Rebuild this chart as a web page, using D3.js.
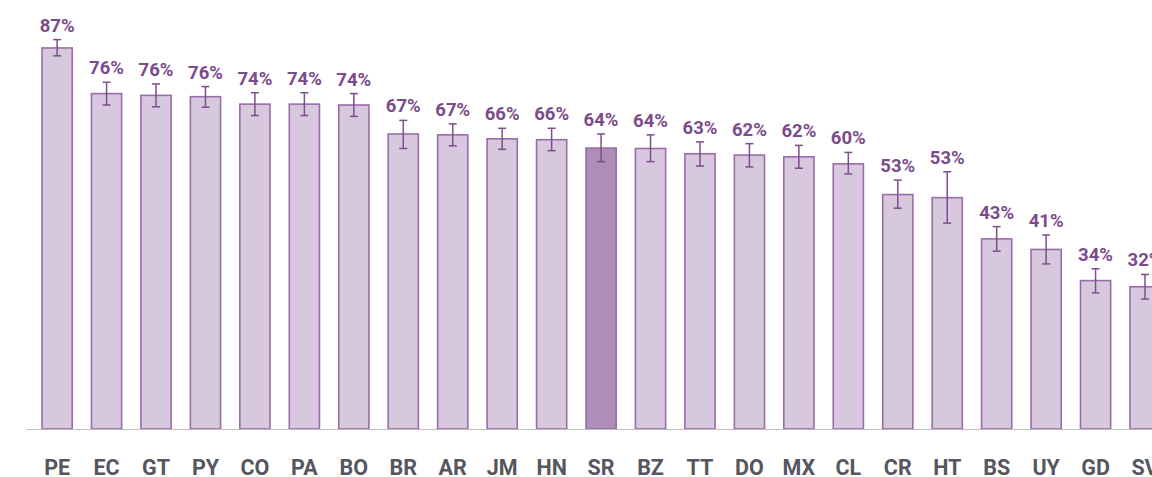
<!DOCTYPE html>
<html>
<head>
<meta charset="utf-8">
<script src="https://cdn.jsdelivr.net/npm/d3@7"></script>
<style>
    html, body { margin: 0; padding: 0; background: #fff; }
    svg { display: block; font-family: Roboto, "Noto Sans", sans-serif; }
</style>
</head>
<body>
<svg id="chart" width="1152" height="477"></svg>
<script>
// country codes, share (%) and the interval ends
const countries = ["PE", "EC", "GT", "PY", "CO", "PA", "BO", "BR", "AR", "JM", "HN", "SR",
    "BZ", "TT", "DO", "MX", "CL", "CR", "HT", "BS", "UY", "GD", "SV"];
const shares = [86.8, 76.4, 76.0, 75.7, 74.0, 74.0, 73.8, 67.2, 67.0, 66.1, 65.9, 64.0,
    63.9, 62.7, 62.4, 62.0, 60.4, 53.4, 52.7, 43.3, 40.9, 33.8, 32.4];
const upper = [88.7, 79.0, 78.6, 78.0, 76.6, 76.6, 76.4, 70.3, 69.5, 68.5, 68.5, 67.2,
    67.0, 65.4, 65.0, 64.6, 63.0, 56.7, 58.6, 46.1, 44.2, 36.5, 35.2];
const lower = [85.0, 73.8, 73.4, 73.3, 71.4, 71.4, 71.2, 63.9, 64.5, 63.7, 63.4, 60.9,
    60.9, 59.9, 59.7, 59.4, 58.1, 50.3, 46.9, 40.5, 37.6, 31.0, 29.6];
const highlighted = ["SR"];

const svg = d3.select("#chart");
const BASE_Y = 429;
const PX_PER_PCT = 4.39;

const x = d3.scaleBand()
    .domain(countries)
    .range([32.4, 32.4 + 23 * 49.45])
    .paddingInner(0.39)
    .paddingOuter(0.195);

const y = d3.scaleLinear()
    .domain([0, 100])
    .range([BASE_Y, BASE_Y - 100 * PX_PER_PCT]);

const data = countries.map((c, i) => ({
    code: c,
    value: shares[i],
    hi: upper[i],
    lo: lower[i]
}));

const barsG = svg.append("g").attr("class", "bars");
const errG = svg.append("g").attr("class", "errors");
const labelG = svg.append("g").attr("class", "labels");

barsG.selectAll("rect.bar").data(data).enter()
    .append("rect")
    .attr("class", "bar")
    .attr("x", d => x(d.code))
    .attr("width", x.bandwidth())
    .attr("y", d => y(d.value))
    .attr("height", d => y(0) - y(d.value))
    .attr("fill", d => highlighted.includes(d.code) ? "#ae8db6" : "#d8c8dd")
    .attr("stroke", "#9a6ca9")
    .attr("stroke-width", 1.6);

// baseline
svg.append("line")
    .attr("x1", 27)
    .attr("x2", 1152)
    .attr("y1", BASE_Y + 0.5)
    .attr("y2", BASE_Y + 0.5)
    .attr("stroke", "#bdbdbd")
    .attr("stroke-width", 1.2);

const cx = d => x(d.code) + x.bandwidth() / 2;
const CAP = 4;

errG.selectAll("g.err").data(data).enter()
    .append("g")
    .attr("class", "err")
    .each(function(d) {
        const g = d3.select(this);
        g.append("line")
            .attr("x1", cx(d)).attr("x2", cx(d))
            .attr("y1", y(d.hi)).attr("y2", y(d.lo));
        g.append("line")
            .attr("x1", cx(d) - CAP).attr("x2", cx(d) + CAP)
            .attr("y1", y(d.hi)).attr("y2", y(d.hi));
        g.append("line")
            .attr("x1", cx(d) - CAP).attr("x2", cx(d) + CAP)
            .attr("y1", y(d.lo)).attr("y2", y(d.lo));
    })
    .attr("stroke", "#7d4e8c")
    .attr("stroke-width", 1.5);

labelG.selectAll("text.value").data(data).enter()
    .append("text")
    .attr("class", "value")
    .attr("x", cx)
    .attr("y", d => y(d.hi) - 8)
    .attr("text-anchor", "middle")
    .attr("font-size", 18.5)
    .attr("font-weight", 700)
    .attr("fill", "#7b4b8b")
    .text(d => Math.round(d.value) + "%");

// category labels under the baseline
svg.append("g")
    .attr("class", "xaxis")
    .attr("transform", "translate(0," + BASE_Y + ")")
    .call(d3.axisBottom(x).tickSize(0).tickPadding(0))
    .call(g => g.select(".domain").remove())
    .selectAll("text")
    .attr("dy", 0)
    .attr("y", 45.5)
    .attr("font-family", "Roboto, sans-serif")
    .attr("font-size", 21.5)
    .attr("font-weight", 700)
    .attr("fill", "#56565e");
</script>
</body>
</html>
